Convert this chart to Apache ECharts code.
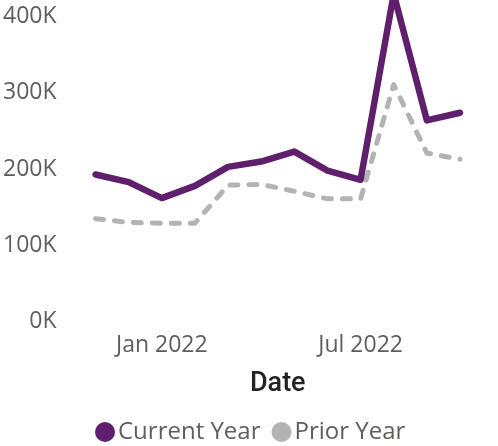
<!DOCTYPE html>
<html>
<head>
<meta charset="utf-8">
<script src="https://cdn.jsdelivr.net/npm/echarts@6/dist/echarts.min.js"></script>
<style>
  html, body { margin: 0; padding: 0; background: #ffffff; }
  #chart { width: 498px; height: 446px; }
</style>
</head>
<body>
<div id="chart"></div>
<script>
// Monthly totals, Nov 2021 – Oct 2022
const months = ['Nov 2021', 'Dec 2021', 'Jan 2022', 'Feb 2022', 'Mar 2022', 'Apr 2022',
                'May 2022', 'Jun 2022', 'Jul 2022', 'Aug 2022', 'Sep 2022', 'Oct 2022'];
const currentYear = [193000, 183000, 162000, 178000, 203000, 210000,
                     223000, 198000, 186000, 430000, 264000, 274000];
const priorYear = [135000, 130000, 129000, 129000, 179000, 180000,
                   171000, 161000, 161000, 311000, 221000, 213000];
const seriesNames = ['Current Year', 'Prior Year'];
const labelledMonths = ['Jan 2022', 'Jul 2022'];

const textGrey = '#605E5C';
const fontFamily = '"Segoe UI", "Open Sans", "Noto Sans", sans-serif';

const chart = echarts.init(document.getElementById('chart'), null, { renderer: 'canvas' });

chart.setOption({
  animation: false,
  backgroundColor: '#ffffff',
  grid: { left: 94, width: 366, top: 0, height: 321.5, containLabel: false },
  legend: {
    data: seriesNames,
    left: 90,
    top: 415,
    icon: 'circle',
    itemWidth: 20,
    itemHeight: 20,
    itemGap: 11,
    textStyle: { color: textGrey, fontSize: 24, fontFamily: fontFamily, padding: [0, 0, 0, -2] }
  },
  xAxis: {
    type: 'category',
    data: months,
    boundaryGap: false,
    name: 'Date',
    nameLocation: 'middle',
    nameGap: 49,
    nameTextStyle: { color: '#222222', fontSize: 27, fontWeight: 500, fontFamily: 'Roboto, sans-serif' },
    axisLine: { show: false },
    axisTick: { show: false },
    splitLine: { show: false },
    axisLabel: {
      interval: 0,
      margin: 12,
      color: textGrey,
      fontSize: 23,
      fontFamily: fontFamily,
      formatter: function (v) { return labelledMonths.indexOf(v) >= 0 ? v : ''; }
    }
  },
  yAxis: {
    type: 'value',
    min: 0,
    max: 422000,
    interval: 100000,
    axisLine: { show: false },
    axisTick: { show: false },
    splitLine: { show: false },
    axisLabel: {
      showMaxLabel: false,
      margin: 39,
      color: textGrey,
      fontSize: 23,
      fontFamily: fontFamily,
      formatter: function (v) { return (v / 1000) + 'K'; }
    }
  },
  series: [
    {
      name: seriesNames[0],
      type: 'line',
      data: currentYear,
      symbol: 'none',
      clip: true,
      color: '#5F1F6C',
      lineStyle: { color: '#5F1F6C', width: 6.5, cap: 'round', join: 'round' },
      z: 3
    },
    {
      name: seriesNames[1],
      type: 'line',
      data: priorYear,
      symbol: 'none',
      clip: true,
      color: '#B3B3B3',
      lineStyle: { color: '#B3B3B3', width: 5, type: [8, 11], cap: 'round', join: 'round' },
      z: 2
    }
  ]
});
</script>
</body>
</html>
